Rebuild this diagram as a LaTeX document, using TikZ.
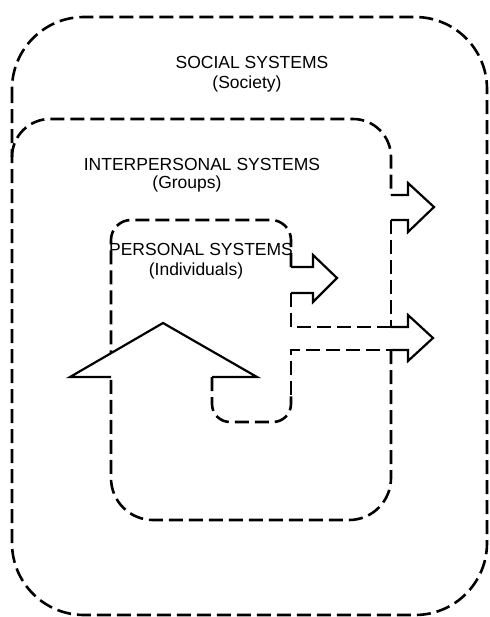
\documentclass[tikz,border=0pt]{standalone}
\usepackage{fontspec}
\setmainfont{Liberation Sans}
\usepackage{tikz}

\begin{document}
\begin{tikzpicture}[
    x=0.5pt, y=-0.5pt,
    boundary/.style={line width=1.3pt, dash pattern=on 7pt off 3pt},
    flow/.style={line width=1.1pt, line join=miter},
    title/.style={anchor=base, inner sep=0pt, font=\fontsize{8.75pt}{10pt}\selectfont},
    sub/.style={anchor=base, inner sep=0pt, font=\fontsize{8.75pt}{10pt}\selectfont}
]
    \useasboundingbox (0,0) rectangle (489,617);

    \draw[boundary, rounded corners=36pt] (12,17) rectangle (487,615);

    \draw[boundary, rounded corners=19pt] (12,157) -- (12,119) -- (391,119) -- (391,195);
    \draw[flow] (391,195) -- (408,195) -- (408,183) -- (434,207) -- (408,232) -- (408,220) -- (391,220);
    \draw[boundary] (391,220) -- (391,327);
    \draw[flow] (391,327) -- (408,327) -- (408,315) -- (433,338) -- (408,361) -- (408,350) -- (391,350);
    \draw[boundary, rounded corners=21pt] (391,350) -- (391,520) -- (111,520) -- (111,377);

    \draw[flow] (111,377) -- (70,377) -- (163,323) -- (257,377) -- (212,377);
    \draw[boundary, rounded corners=9pt] (212,377) -- (212,422) -- (291,422) -- (291,395);
    \draw[boundary] (291,395) -- (291,350) -- (391,350);

    \draw[boundary] (391,327) -- (291,327) -- (291,293);
    \draw[flow] (291,293) -- (313,293) -- (313,302) -- (337,278) -- (313,255) -- (313,267) -- (291,267);
    \draw[boundary, rounded corners=10pt] (291,267) -- (291,220) -- (111,220) -- (111,353);

    \node[title] (social) at (252,68) {SOCIAL SYSTEMS};
    \node[sub] (society) at (247,88) {(Society)};
    \node[title] (inter) at (202,170) {INTERPERSONAL SYSTEMS};
    \node[sub] (groups) at (187,188) {(Groups)};
    \node[title] (personal) at (201,255) {PERSONAL SYSTEMS};
    \node[sub] (indiv) at (196,275) {(Individuals)};
\end{tikzpicture}
\end{document}
